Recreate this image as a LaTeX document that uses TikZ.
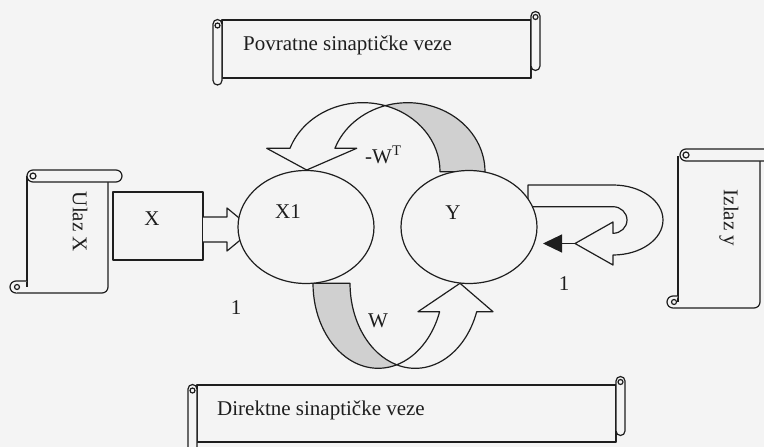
\documentclass[tikz,border=0pt]{standalone}
\usepackage{fontspec}
\setmainfont{Liberation Serif}
\usetikzlibrary{shapes.geometric,arrows.meta}
\definecolor{bg}{RGB}{244,244,244}
\definecolor{ink}{RGB}{30,30,30}
\definecolor{shade}{RGB}{208,208,208}
\begin{document}
\begin{tikzpicture}[x=1pt,y=-1pt,
  ln/.style={draw=ink, line width=1.2pt, line join=round},
  blk/.style={ln, fill=bg},
  shd/.style={ln, fill=shade},
  lbl/.style={font=\fontsize{21}{25}\selectfont, text=ink, inner sep=0pt},
  oval/.style={ellipse, ln, fill=bg, minimum width=136pt, minimum height=113pt, inner sep=0pt}
]
\fill[bg] (0,0) rectangle (764,447);
\useasboundingbox (0,0) rectangle (764,447);

% ---------- top scroll ----------
\path[blk] (222,20) rectangle (531,78);
\draw[blk] (213,24) arc[start angle=180,end angle=360,radius=4.5] -- (222,80.5) arc[start angle=0,end angle=180,radius=4.5] -- cycle;
\draw[ln] (217.5,25.5) circle[radius=2.5];
\draw[blk] (531,78) -- (531,16) arc[start angle=180,end angle=360,radius=4.5] -- (540,66) arc[start angle=0,end angle=180,radius=4.5];
\draw[ln] (535.5,17) circle[radius=2.5];
\node[lbl, anchor=base west] (povr) at (243,50) {Povratne sinaptičke veze};

% ---------- bottom scroll ----------
\path[blk] (197,385) rectangle (616,442);
\draw[blk] (188,389) arc[start angle=180,end angle=360,radius=4.5] -- (197,447.5) arc[start angle=0,end angle=180,radius=4.5] -- cycle;
\draw[ln] (192.5,390.5) circle[radius=2.5];
\draw[blk] (616,442) -- (616,381) arc[start angle=180,end angle=360,radius=4.5] -- (625,431) arc[start angle=0,end angle=180,radius=4.5];
\draw[ln] (620.5,382) circle[radius=2.5];
\node[lbl, anchor=base west] (dir) at (217,415) {Direktne sinaptičke veze};

% ---------- Ulaz X scroll ----------
\path[fill=bg] (27,176) rectangle (108,293);
\draw[ln] (27,176) -- (27,287);
\draw[ln] (108,182) -- (108,287) arc[start angle=0,end angle=90,radius=6] -- (16,293);
\draw[blk] (27,281) -- (16,281) arc[start angle=270,end angle=90,radius=6];
\draw[ln] (17,287) circle[radius=2.5];
\draw[blk, rounded corners=6pt] (27,170) rectangle (122,182);
\draw[ln] (33,176) circle[radius=3];
\node[lbl, rotate=-90] (ulaz) at (80,222) {Ulaz X};

% ---------- Izlaz y scroll ----------
\path[fill=bg] (678,160) rectangle (760,308);
\draw[ln] (678,156) -- (678,302);
\draw[ln] (760,160) -- (760,302) arc[start angle=0,end angle=90,radius=6] -- (673,308);
\draw[blk] (678,296) -- (673,296) arc[start angle=270,end angle=90,radius=6];
\draw[ln] (674,302) circle[radius=2.5];
\draw[blk, rounded corners=6pt] (680,149) rectangle (778,161);
\draw[ln] (686,155) circle[radius=3];
\node[lbl, rotate=-90] (izlaz) at (729,218) {Izlaz y};

% ---------- X box and input arrow ----------
\node[ln, fill=bg, minimum width=90pt, minimum height=68pt, inner sep=0pt] (xbox) at (158,226) {};
\node[lbl] (xlbl) at (152,219) {X};
\draw[blk] (203,217) -- (227,217) -- (227,208) -- (253,229.5) -- (227,251) -- (227,242) -- (203,242);

% ---------- feedback arrow -W^T ----------
\draw[shd] (385.2,105.7) arc[start angle=286.9,end angle=360,x radius=77.3,y radius=69] -- (485,171.7) arc[start angle=360,end angle=253.1,x radius=77.3,y radius=69] -- cycle;
\draw[blk] (290,148.3) arc[start angle=199.8,end angle=286.9,x radius=77.3,y radius=69] arc[start angle=253.1,end angle=199.8,x radius=77.3,y radius=69] -- (356.7,148.3) -- (306.7,170) -- (266.7,148.3) -- cycle;

% ---------- direct arrow W ----------
\draw[shd] (313,283.3) arc[start angle=180,end angle=73.5,x radius=65.2,y radius=85] arc[start angle=106.5,end angle=180,x radius=65.2,y radius=85] -- cycle;
\draw[blk] (396.7,364.8) arc[start angle=73.5,end angle=19.5,x radius=65.2,y radius=85] -- (418,311.7) -- (460,283.3) -- (493,311.7) -- (476.7,311.7) arc[start angle=19.5,end angle=106.5,x radius=65.2,y radius=85] -- cycle;

% ---------- output loop arrow ----------
\draw[blk] (528,206.7) -- (528,185) -- (613,185) arc[start angle=-90,end angle=90,x radius=50,y radius=35] -- (613,265) -- (575,243.5) -- (613,222) -- (613,233.3) arc[start angle=90,end angle=-90,x radius=14,y radius=13.3] -- cycle;
\coordinate (loopTip) at (575,243.5);
\coordinate (ynear) at (543,243.5);
\draw[ink, line width=1.2pt, -{Triangle[length=19pt,width=18pt]}] (loopTip) -- (ynear);

% ---------- neurons ----------
\node[oval] (x1) at (306,227) {};
\node[oval] (y) at (469,227) {};
\node[lbl] (x1lbl) at (288,212) {X1};
\node[lbl] (ylbl) at (453,213) {Y};

% ---------- labels ----------
\node[lbl, anchor=base west] (wt) at (365,163) {-W\textsuperscript{T}};
\node[lbl] (w) at (378,321) {W};
\node[lbl] (one1) at (236,308) {1};
\node[lbl] (one2) at (564,284) {1};
\end{tikzpicture}
\end{document}
